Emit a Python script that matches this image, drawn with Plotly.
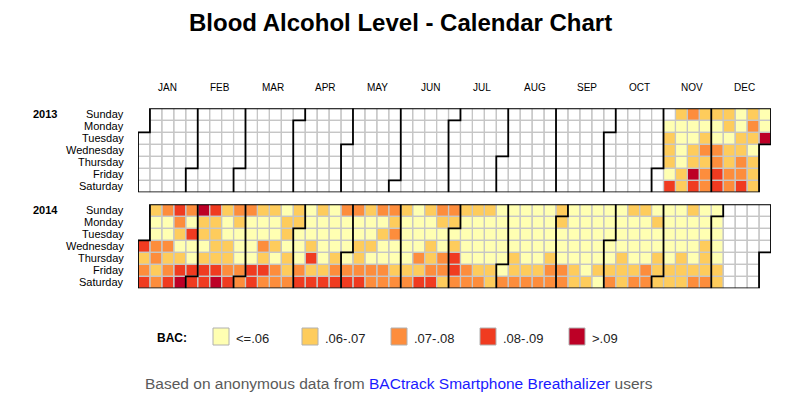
import datetime as dt
import plotly.graph_objects as go

# ---------------- data ----------------
TITLE = "Blood Alcohol Level - Calendar Chart"
YEARS = [2013, 2014]
MONTHS = ["JAN", "FEB", "MAR", "APR", "MAY", "JUN", "JUL", "AUG", "SEP", "OCT", "NOV", "DEC"]
WEEKDAYS = ["Sunday", "Monday", "Tuesday", "Wednesday", "Thursday", "Friday", "Saturday"]
BAC_BINS = ["<=.06", ".06-.07", ".07-.08", ".08-.09", ">.09"]
BIN_COLORS = ["#FFFFB2", "#FECC5C", "#FD8D3C", "#F03B20", "#BD0026"]

# weekly BAC category (Sun..Sat), 0 = no reading, 1..5 = index into BAC_BINS (+1)
FIRST_WEEK = "2013-11-03"
WEEKLY_BAC_2013 = [
    "0122214", "2111122", "3112254", "2123233", "2113344",
    "2212233", "1122334", "2321222", "1154234",
]
WEEKLY_BAC_2014 = [
    "2113323", "3113234", "4321245", "3141144", "5221244", "4222245",
    "2112234", "3211133", "3111144", "2113243", "2112133", "1221223",
    "2211134", "1112424", "2111124", "1111234", "3111134", "3112234",
    "2112133", "3121133", "3231123", "2111123", "1111324", "2112234",
    "3211332", "3212443", "2111133", "2111123", "2111122", "1111113",
    "1111223", "1111123", "1111123", "1111233", "2211133", "1111122",
    "1111112", "1111121", "1111123", "1111222", "2111123", "2111133",
    "1211222", "1111122", "1111222", "2111123", "1112223", "1111122",
]

FOOT_PRE = "Based on anonymous data from "
FOOT_LINK = "BACtrack Smartphone Breathalizer"
FOOT_POST = " users"

# ---------------- geometry helpers ----------------
OFF = 8                      # page body margin
W, H = 800 - OFF, 400 - OFF
ML, MR = 130, 29
PW = W - ML - MR
NCOL = 53


def px(x):
    """screen x (px) -> paper x"""
    return (x - OFF - ML) / PW


def py(y):
    """screen y (px) -> paper y"""
    return 1 - (y - OFF) / H


FONT = "Liberation Sans, Arial, sans-serif"

start = dt.date.fromisoformat(FIRST_WEEK)
bac = {}
for w, s in enumerate(WEEKLY_BAC_2013 + WEEKLY_BAC_2014):
    for d, ch in enumerate(s):
        bac[start + dt.timedelta(days=7 * w + d)] = int(ch)


def cell(date):
    jan1 = dt.date(date.year, 1, 1)
    off = (jan1.weekday() + 1) % 7
    doy = (date - jan1).days
    return (doy + off) // 7, (doy + off) % 7


cs = [[0.0, "#FFFFFF"], [1 / 6, "#FFFFFF"]]
for k, c in enumerate(BIN_COLORS, start=1):
    cs += [[k / 6, c], [(k + 1) / 6, c]]

domains = {2013: (py(192.3), py(108.3)), 2014: (py(288.3), py(204.3))}
yaxes = {2013: "y", 2014: "y2"}

fig = go.Figure()
ann = []

for yr in YEARS:
    ya = yaxes[yr]
    z = [[None] * NCOL for _ in range(7)]
    d = dt.date(yr, 1, 1)
    gx, gy = [], []
    while d.year == yr:
        c, r = cell(d)
        z[r][c] = bac.get(d, 0)
        gx += [c, c + 1, c + 1, c, c, None]
        gy += [r, r, r + 1, r + 1, r, None]
        d += dt.timedelta(days=1)
    fig.add_trace(go.Heatmap(
        z=z, x=[i + 0.5 for i in range(NCOL)], y=[i + 0.5 for i in range(7)],
        colorscale=cs, zmin=-0.5, zmax=5.5, showscale=False, hoverinfo="skip",
        xaxis="x", yaxis=ya))
    fig.add_trace(go.Scatter(x=gx, y=gy, mode="lines", line=dict(color="#c6c6c6", width=1.2),
                             hoverinfo="skip", showlegend=False, xaxis="x", yaxis=ya))
    # month boundaries
    bx, by = [], []
    for m in range(2, 13):
        c, r = cell(dt.date(yr, m, 1))
        if r == 0:
            bx += [c, c, None]
            by += [0, 7, None]
        else:
            bx += [c + 1, c + 1, c, c, None]
            by += [0, r, r, 7, None]
    # year outline
    c0, r0 = cell(dt.date(yr, 1, 1))
    cl, rl = cell(dt.date(yr, 12, 31))
    bx += [0, 0, 1, 1, cl + 1, cl + 1, cl, cl, 0]
    by += [7, r0, r0, 0, 0, rl + 1, rl + 1, 7, 7]
    fig.add_trace(go.Scatter(x=bx, y=by, mode="lines", line=dict(color="black", width=1.8),
                             hoverinfo="skip", showlegend=False, xaxis="x", yaxis=ya))
    # labels
    ann.append(dict(text=f"<b>{yr}</b>", xref="paper", x=px(31), xanchor="left",
                    yref=ya, y=0.5, yanchor="middle", showarrow=False,
                    font=dict(family=FONT, size=11, color="black")))
    for i, wd in enumerate(WEEKDAYS):
        ann.append(dict(text=wd, xref="x", x=0, xanchor="right", xshift=-12,
                        yref=ya, y=i + 0.5, yanchor="middle", showarrow=False,
                        font=dict(family=FONT, size=11, color="black")))

for i, m in enumerate(MONTHS):
    ann.append(dict(text=m, xref="x", x=2.49 + i * 4.392, xanchor="center",
                    yref="paper", y=py(87), yanchor="middle", showarrow=False,
                    font=dict(family=FONT, size=10, color="black")))

ann.append(dict(text=f"<b>{TITLE}</b>", xref="paper", x=px(400), xanchor="center",
                yref="paper", y=py(23), yanchor="middle", showarrow=False,
                font=dict(family=FONT, size=24, color="black")))

# legend
ann.append(dict(text="<b>BAC:</b>", xref="paper", x=px(155), xanchor="left",
                yref="paper", y=py(338), yanchor="middle", showarrow=False,
                font=dict(family=FONT, size=12, color="black")))
shapes = []
for i, (lab, col) in enumerate(zip(BAC_BINS, BIN_COLORS)):
    sx = 213 + i * 89
    shapes.append(dict(type="rect", xref="paper", yref="paper",
                       x0=px(sx), x1=px(sx + 16), y0=py(345), y1=py(328),
                       fillcolor=col, line=dict(color="#b0b0b0", width=1)))
    ann.append(dict(text=lab, xref="paper", x=px(sx + 21), xanchor="left",
                    yref="paper", y=py(338), yanchor="middle", showarrow=False,
                    font=dict(family=FONT, size=13, color="#222222")))

ann.append(dict(text=f"{FOOT_PRE}<span style='color:#1a1aff'>{FOOT_LINK}</span>{FOOT_POST}",
                xref="paper", x=px(399), xanchor="center",
                yref="paper", y=py(383), yanchor="middle", showarrow=False,
                font=dict(family=FONT, size=15.5, color="#5a5a5a")))

ax = dict(showgrid=False, zeroline=False, showticklabels=False, ticks="", showline=False, fixedrange=True)
fig.update_layout(
    width=W, height=H, margin=dict(l=ML, r=MR, t=0, b=0),
    paper_bgcolor="white", plot_bgcolor="rgba(0,0,0,0)", showlegend=False,
    xaxis=dict(range=[0, NCOL], domain=[0, 1], **ax),
    yaxis=dict(range=[7, 0], domain=list(domains[2013]), **ax),
    yaxis2=dict(range=[7, 0], domain=list(domains[2014]), **ax),
    annotations=ann, shapes=shapes,
)

fig.write_html("out.html")
